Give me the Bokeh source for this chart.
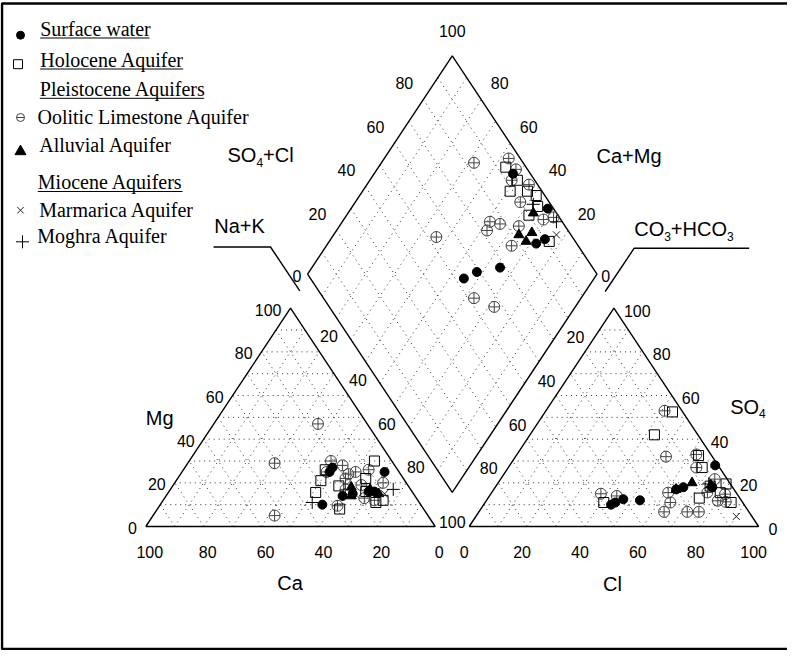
import numpy as np
from bokeh.plotting import figure
from bokeh.models import Range1d
from bokeh.core.properties import value
from bokeh.embed import file_html
from bokeh.resources import INLINE

# ---------------- data (percent of meq/l) ----------------
tick_values = [0, 20, 40, 60, 80, 100]
grid_values = [10, 20, 30, 40, 50, 60, 70, 80, 90]

# Surface water
surface_ca = [34, 25, 21, 24, 5, 15, 13, 22]
surface_mg = [10, 14, 15, 25, 25, 16, 16, 27]
surface_cl = [45, 47, 53, 63, 65, 71, 75, 44]
surface_so4 = [11, 12.5, 12, 17, 18, 28, 18, 10]
surface_nak = [55, 58, 65, 48, 68, 72, 74]
surface_so4cl = [53, 59, 68, 94, 98, 86, 90]

# Holocene aquifer
holocene_ca = [6, 33.5, 29, 25, 24, 29, 12, 13, 15, 16]
holocene_mg = [30, 15.6, 21, 26, 18.6, 8, 12, 22, 11, 16]
holocene_cl = [44, 43, 63, 67, 79, 73, 74, 41, 79, 85]
holocene_so4 = [52.5, 42, 32.5, 27, 19.5, 13, 18.5, 11, 15.5, 11]
holocene_nak = [44, 51, 51, 57, 61, 64, 76, 63]
holocene_so4cl = [93, 94, 89, 95, 97, 95, 91, 90]

# Oolitic limestone aquifer (Pleistocene)
oolitic_ca = [17, 41, 53, 21, 18, 25, 20, 15, 10, 16, 8, 22.5, 29, 18, 15, 18]
oolitic_mg = [47, 29, 5, 30, 28, 25, 22, 25, 26, 19, 20, 17, 9.5, 13, 12, 24]
oolitic_cl = [41, 52, 62, 65, 38, 44, 61, 64, 64, 72, 76, 74, 74.5, 81, 80, 83]
oolitic_so4 = [53, 32, 33, 27, 15, 14, 15.5, 11, 6.7, 6.7, 6.7, 21.7, 15.6, 14.8, 11.8, 11.3]
oolitic_nak = [32, 43, 48, 49, 56, 57, 51, 52, 55, 62, 64, 36, 72, 69, 63, 72]
oolitic_so4cl = [83, 96, 96, 92, 97, 90, 75, 72, 78, 84, 77, 53, 98, 94, 52, 57]

# Alluvial aquifer (Pleistocene)
alluvial_ca = [20, 14, 22, 12]
alluvial_mg = [18, 17, 14, 15]
alluvial_cl = [67, 63, 74]
alluvial_so4 = [20, 17, 19]
alluvial_nak = [64, 68, 68, 64]
alluvial_so4cl = [82, 83, 87, 92]

# Marmarica aquifer (Miocene)
marmarica_ca = [10]
marmarica_mg = [15]
marmarica_cl = [90]
marmarica_so4 = [4.6]
marmarica_nak = [77]
marmarica_so4cl = [95]

# Moghra aquifer (Miocene)
moghra_ca = [6, 37]
moghra_mg = [17, 11]
moghra_cl = [73]
moghra_so4 = [19.5]
moghra_nak = [74, 62]
moghra_so4cl = [98, 94]

legend_labels = ["Surface water", "Holocene Aquifer", "Pleistocene Aquifers",
                 "Oolitic Limestone Aquifer", "Alluvial Aquifer", "Miocene Aquifers",
                 "Marmarica Aquifer", "Moghra Aquifer"]

# ---------------- geometry ----------------
SX, SY = 2.894, 2.183        # screen px per percent unit
X0, Y0 = 153.3, 534.0        # page position of the cation Ca corner
W, H = 787, 650
AX = 111.75                  # x of anion triangle left corner
DX, DY = 55.9, 115.6         # left corner of diamond

SANS = value("Liberation Sans")
SERIF = value("Liberation Serif")


def px(x, y):
    return (x - X0) / SX, (Y0 - y) / SY


def cat_xy(ca, mg):
    ca = np.asarray(ca, float); mg = np.asarray(mg, float)
    return 100 - ca - mg / 2, mg


def an_xy(cl, so4):
    cl = np.asarray(cl, float); so4 = np.asarray(so4, float)
    return AX + cl + so4 / 2, so4


def dia_xy(nak, so4cl):
    n = np.asarray(nak, float); q = np.asarray(so4cl, float)
    return DX + 0.5 * n + 0.5 * q, DY - n + q


p = figure(width=W, height=H,
           x_range=Range1d((8 - X0) / SX, (8 + W - X0) / SX),
           y_range=Range1d((Y0 - 8 - H) / SY, (Y0 - 8) / SY),
           x_axis_type=None, y_axis_type=None, toolbar_location=None,
           output_backend="svg", min_border=0)
p.outline_line_color = None
p.background_fill_color = "white"
p.border_fill_color = "white"

# ---------------- frame (open on the right) ----------------
fr = [px(820, 11), px(9.5, 11), px(9.5, 656.5), px(820, 656.5)]
p.line([a[0] for a in fr], [a[1] for a in fr], line_color="black", line_width=2.5)

# ---------------- grids ----------------
gx, gy = [], []
for v in grid_values:
    for (a, b) in [(cat_xy(100 - v, v), cat_xy(0, v)),
                   (cat_xy(v, 0), cat_xy(v, 100 - v)),
                   (cat_xy(100 - v, 0), cat_xy(0, 100 - v)),
                   (an_xy(0, v), an_xy(100 - v, v)),
                   (an_xy(v, 0), an_xy(v, 100 - v)),
                   (an_xy(100 - v, 0), an_xy(0, 100 - v)),
                   (dia_xy(v, 0), dia_xy(v, 100)),
                   (dia_xy(0, v), dia_xy(100, v))]:
        gx.append([float(a[0]), float(b[0])])
        gy.append([float(a[1]), float(b[1])])
p.multi_line(gx, gy, line_color="#333333", line_width=1, line_dash="1 4")

# ---------------- outlines ----------------
ox, oy = [], []
cx, cy = cat_xy([100, 0, 0, 100], [0, 0, 100, 0]); ox.append(list(cx)); oy.append(list(cy))
ax_, ay_ = an_xy([0, 100, 0, 0], [0, 0, 100, 0]); ox.append(list(ax_)); oy.append(list(ay_))
dx_, dy_ = dia_xy([0, 100, 100, 0, 0], [0, 0, 100, 100, 0]); ox.append(list(dx_)); oy.append(list(dy_))
p.multi_line(ox, oy, line_color="black", line_width=1.4)

# leader lines
l1 = [px(221, 254.5), px(278, 254.5), px(307.3, 298.3)]
l2 = [px(756.7, 255.7), px(641.7, 255.7), px(612.7, 299)]
p.multi_line([[a[0] for a in l1], [a[0] for a in l2]],
             [[a[1] for a in l1], [a[1] for a in l2]], line_color="black", line_width=1.4)

# ---------------- tick labels ----------------
TFS = "16px"


def ticks(xs, ys, labels, align, xo, yo):
    p.text(x=[float(v) for v in xs], y=[float(v) for v in ys], text=labels,
           text_font=SANS, text_font_size=TFS, text_align=align,
           text_baseline="middle", x_offset=xo, y_offset=yo, text_color="black")


lab = [str(v) for v in tick_values]
inner = tick_values[1:-1]
lin = [str(v) for v in inner]
iv = np.array(inner, float)

# cation Mg (left edge)
x, y = cat_xy(100 - np.array(tick_values, float), tick_values)
ticks(x, y, lab, "right", -9, 1.5)
# cation Ca (bottom)
x, y = cat_xy(tick_values, [0] * 6)
ticks(x, y, lab, "center", 4, 25)
# anion Cl (bottom)
x, y = an_xy(tick_values, [0] * 6)
ticks(x, y, lab, "center", -5, 25)
# anion SO4 (right edge)
x, y = an_xy(100 - np.array(tick_values, float), tick_values)
ticks(x, y, lab, "left", 10, 2.5)
# left channel: Na+K
ax1, ay1 = cat_xy(np.zeros_like(iv), 100 - iv)
bx1, by1 = dia_xy(iv, np.zeros_like(iv))
ticks((ax1 + bx1) / 2, (ay1 + by1) / 2, lin, "center", 1, 1.5)
# right channel: CO3+HCO3
ax2, ay2 = an_xy(np.zeros_like(iv), 100 - iv)
bx2, by2 = dia_xy(np.full_like(iv, 100), 100 - iv)
ticks((ax2 + bx2) / 2, (ay2 + by2) / 2, lin, "center", -1, 2.5)
# diamond upper-left: SO4+Cl
x, y = dia_xy(np.zeros_like(iv), iv)
ticks(x, y, lin, "center", -19, -16.5)
x, y = dia_xy([0], [100])
ticks(x, y, ["100"], "center", 0, -24.5)
# diamond upper-right: Ca+Mg
x, y = dia_xy(100 - iv, np.full_like(iv, 100))
ticks(x, y, lin, "center", 18.5, -16.5)
# shared corner labels
x, y = dia_xy([0], [0]); ticks(x, y, ["0"], "center", -10.7, 1.5)
x, y = dia_xy([100], [100]); ticks(x, y, ["0"], "center", 8.7, 1.5)
x, y = dia_xy([100], [0]); ticks(x, y, ["100"], "center", 0, 29.5)

# ---------------- axis titles ----------------
AWID = {"S": .667, "O": .778, "C": .722, "l": .222, "+": .584, "H": .722,
        "4": .556, "3": .556, "N": .722, "a": .556, "K": .667, "M": .833, "g": .556}


def title(pieces, left_px, base_px, align="left"):
    xcur = left_px
    for txt, size, dy in pieces:
        xd, yd = px(xcur, base_px + dy - 0.36 * size)
        p.text(x=[xd], y=[yd], text=[txt], text_font=SANS,
               text_font_size=f"{size}px", text_align=align,
               text_baseline="middle", text_color="black")
        xcur += sum(AWID.get(c, 0.55) for c in txt) * size


title([("SO", 20, 0), ("4", 12, 4), ("+Cl", 20, 0)], 235, 170)
title([("Ca+Mg", 20, 0)], 604, 171)
title([("Na+K", 20, 0)], 221.7, 240.5)
title([("CO", 20, 0), ("3", 12, 4), ("+HCO", 20, 0), ("3", 12, 4)], 641.7, 244)
title([("Mg", 20, 0)], 153.3, 432.7)
title([("SO", 20, 0), ("4", 12, 4)], 737.7, 421.7)
title([("Ca", 20, 0)], 297.5, 598, "center")
title([("Cl", 20, 0)], 620, 599, "center")

# ---------------- data points ----------------
styles = {
    "oolitic": dict(marker="circle_cross", size=11, fill_color=None, line_color="#444444", line_width=1),
    "holocene": dict(marker="square", size=10, fill_color=None, line_color="black", line_width=1),
    "alluvial": dict(marker="triangle", size=10, fill_color="black", line_color="black"),
    "surface": dict(marker="circle", size=9, fill_color="black", line_color="black"),
    "moghra": dict(marker="cross", size=13, line_color="black", line_width=1),
    "marmarica": dict(marker="x", size=10, line_color="#222222", line_width=1),
}
groups = {
    "oolitic": (oolitic_ca, oolitic_mg, oolitic_cl, oolitic_so4, oolitic_nak, oolitic_so4cl),
    "holocene": (holocene_ca, holocene_mg, holocene_cl, holocene_so4, holocene_nak, holocene_so4cl),
    "alluvial": (alluvial_ca, alluvial_mg, alluvial_cl, alluvial_so4, alluvial_nak, alluvial_so4cl),
    "surface": (surface_ca, surface_mg, surface_cl, surface_so4, surface_nak, surface_so4cl),
    "moghra": (moghra_ca, moghra_mg, moghra_cl, moghra_so4, moghra_nak, moghra_so4cl),
    "marmarica": (marmarica_ca, marmarica_mg, marmarica_cl, marmarica_so4, marmarica_nak, marmarica_so4cl),
}
for name, (ca, mg, cl, so4, nak, so4cl) in groups.items():
    st = styles[name]
    for fx, a, b in ((cat_xy, ca, mg), (an_xy, cl, so4), (dia_xy, nak, so4cl)):
        x, y = fx(a, b)
        p.scatter(x=list(x), y=list(y), **st)

# ---------------- legend ----------------
leg_base = [43, 74, 103.3, 131.5, 159, 196.5, 224, 250]
leg_left = [47.7, 47.7, 47.3, 45, 46.7, 45.3, 46.7, 44.7]
leg_under = {0: 157, 1: 190.7, 2: 211.7, 5: 190}
for i, t in enumerate(legend_labels):
    xd, yd = px(leg_left[i], leg_base[i] - 6.6)
    p.text(x=[xd], y=[yd], text=[t], text_font=SERIF, text_font_size="20px",
           text_align="left", text_baseline="middle", text_color="black")
    if i in leg_under:
        a = px(leg_left[i], leg_base[i] + 2.5); b = px(leg_under[i], leg_base[i] + 2.5)
        p.line([a[0], b[0]], [a[1], b[1]], line_color="black", line_width=1)

leg_marks = [("surface", 28, 42.7, 8), ("holocene", 25.5, 71.7, 9), ("alluvial", 28, 159, 11),
             ("marmarica", 28, 217.7, 9), ("moghra", 30, 249.3, 13)]
for name, mx, my, sz in leg_marks:
    st = dict(styles[name]); st["size"] = sz
    xd, yd = px(mx, my)
    p.scatter(x=[xd], y=[yd], **st)
xd, yd = px(28, 125)
p.scatter(x=[xd], y=[yd], marker="circle", size=8, fill_color=None, line_color="#444444")
p.scatter(x=[xd], y=[yd], marker="dash", size=8, line_color="#444444")

open("out.html", "w").write(file_html(p, INLINE, "Piper diagram"))
